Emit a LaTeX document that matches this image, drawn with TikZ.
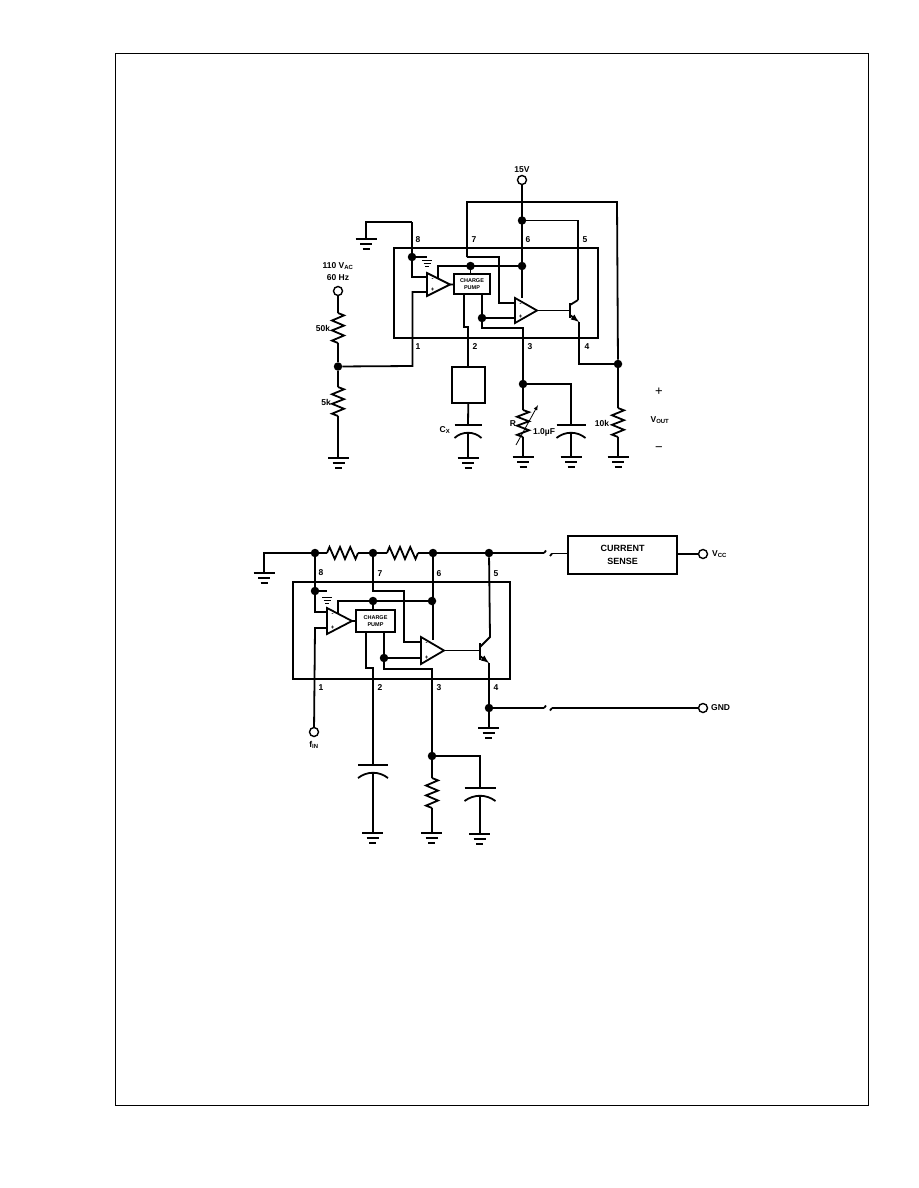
\documentclass[tikz,border=0pt]{standalone}
\usepackage{fontspec}
\setmainfont{Liberation Sans}
\usetikzlibrary{calc}
\tikzset{
	wire/.style={line width=1.8pt},
	dot/.style={circle,fill=black,inner sep=0pt,minimum size=8.5pt},
	term/.style={circle,draw,line width=1.4pt,fill=white,inner sep=0pt,minimum size=9pt},
	lbl/.style={font=\fontsize{8.5}{9}\bfseries\selectfont,inner sep=0pt},
	signlbl/.style={font=\fontsize{13}{13}\selectfont,inner sep=0pt},
	pumpbox/.style={draw,line width=2pt,fill=white,inner sep=0pt,align=center,font=\fontsize{5.5}{6.5}\bfseries\selectfont},
	plainbox/.style={draw,line width=2pt,inner sep=0pt,align=center,font=\fontsize{9}{13}\bfseries\selectfont}
}
\def\resist(#1)(#2){\draw[wire] (#1) -- ($(#1)!.08!(#2)!6pt!90:(#2)$) -- ($(#1)!.25!(#2)!6pt!-90:(#2)$) -- ($(#1)!.42!(#2)!6pt!90:(#2)$) -- ($(#1)!.58!(#2)!6pt!-90:(#2)$) -- ($(#1)!.75!(#2)!6pt!90:(#2)$) -- ($(#1)!.92!(#2)!6pt!-90:(#2)$) -- (#2);}
\def\earth(#1){\draw[wire] ($(#1)+(-10.5,0)$) -- ($(#1)+(10.5,0)$); \draw[wire] ($(#1)+(-6,5)$) -- ($(#1)+(6,5)$); \draw[line width=2pt] ($(#1)+(-3.5,10)$) -- ($(#1)+(3.5,10)$);}
\def\smallearth(#1){\draw[line width=1pt] ($(#1)+(-5,0)$) -- ($(#1)+(5,0)$); \draw[line width=1pt] ($(#1)+(-3.5,3)$) -- ($(#1)+(3.5,3)$); \draw[line width=1pt] ($(#1)+(-2,6)$) -- ($(#1)+(2,6)$);}
\def\capac(#1)(#2){\draw[wire] ($(#1)+(-#2,0)$) -- ($(#1)+(#2,0)$); \draw[wire] ($(#1)+(-#2,13)$) .. controls ($(#1)+(-6,6)$) and ($(#1)+(6,6)$) .. ($(#1)+(#2,13)$);}
\def\opamp(#1)(#2)(#3){\draw[wire,fill=white] (#1) -- (#2) -- (#3) -- cycle; \node[lbl,font=\fontsize{6}{6}\bfseries\selectfont] at ($(#1)+(5.5,6.5)$) {-}; \node[lbl,font=\fontsize{6}{6}\bfseries\selectfont] at ($(#3)+(5.5,-6.5)$) {+};}

\begin{document}
\begin{tikzpicture}[x=1pt,y=-1pt]
	\useasboundingbox (0,0) rectangle (918,1188);
	\draw[line width=1pt] (115,54) rectangle (868,1105);

	%%%%% TOP CIRCUIT %%%%%
	\node[lbl] (avlab) at (522,169.5) {15V};
	\node[term] (avin) at (522,180) {};
	\node[dot] (adtop) at (522,220.5) {};
	\node[dot] (adsix) at (522,266) {};
	\node[dot] (adpump) at (470.5,266) {};
	\node[dot] (adeight) at (412,257) {};
	\node[dot] (adrc) at (482,318) {};
	\node[dot] (addiv) at (338,366.5) {};
	\node[dot] (adthree) at (523,384) {};
	\node[dot] (adout) at (618,364) {};
	\node[term] (aacin) at (338,291) {};
	\node[lbl] (aaclab) at (338,266) {110 V\textsubscript{AC}};
	\node[lbl] (afreq) at (338,278) {60 Hz};
	\node[lbl] (arone) at (323,328) {50k};
	\node[lbl] (artwo) at (326,402) {5k};
	\node[lbl] (arload) at (602,423) {10k};
	\node[lbl] (arvar) at (513,424) {R};
	\node[lbl] (acval) at (544,432) {1.0µF};
	\node[lbl] (acx) at (445,430) {C\textsubscript{X}};
	\node[signlbl] (aplus) at (659,392) {+};
	\node[lbl] (avout) at (660,420) {V\textsubscript{OUT}};
	\node[signlbl] (aminus) at (659,449) {−};
	\node[lbl] at (418,240) {8};
	\node[lbl] at (474,240) {7};
	\node[lbl] at (528,240) {6};
	\node[lbl] at (585,240) {5};
	\node[lbl] at (418,347) {1};
	\node[lbl] at (475,347) {2};
	\node[lbl] at (530,347) {3};
	\node[lbl] at (587,347) {4};

	\draw[wire] (394,248) rectangle (598,338);
	\coordinate (aearth) at (366,239);
	\coordinate (agnd) at (427,257);
	\coordinate (asmall) at (427,260);
	\coordinate (aopa) at (427,273);
	\coordinate (aopb) at (450,284.5);
	\coordinate (aopc) at (427,296);
	\coordinate (aoqa) at (515,298);
	\coordinate (aoqb) at (537,310.5);
	\coordinate (aoqc) at (515,323);
	\coordinate (abase) at (570,310.5);
	\coordinate (acoll) at (578,300);
	\coordinate (aemit) at (579,322);
	\coordinate (acxtop) at (468,425);
	\coordinate (acvtop) at (571,425);
	\coordinate (arvtop) at (523,410);
	\coordinate (arvbot) at (523,437);
	\coordinate (arltop) at (618,408);
	\coordinate (arlbot) at (618,437);

	\draw[wire] (avin) -- (aoqa -| avin);
	\draw[wire] (467,257) -- (467,202) -- (617,202) -- (adout);
	\draw[wire] (adtop) -| (acoll);
	\draw[wire] (412,222) -| (aearth);
	\earth(aearth)
	\draw[wire] (412,222) -- (412,277) -- (427,277);
	\draw[wire] (adeight) -- (agnd);
	\smallearth(asmall)
	\draw[wire] (467,257) -- (499,257) -- (499,303) -- (515,303);
	\draw[wire] (438,278) -- (438,266) -- (adsix);
	\draw[wire] (adpump) -- (470.5,276);
	\draw[wire] (464,294) -- (464,327) -- (468,327) -- (468,367);
	\draw[wire] (482,294) -- (482,328) -- (523,328) -- (adthree);
	\draw[wire] (adrc) -- (515,318);
	\draw[wire] (427,292) -- (412.5,292) -- (412.5,366) -- (addiv);
	\draw[wire] (aacin) -- (338,313);
	\resist(338,313)(338,343)
	\draw[wire] (338,343) -- (addiv) -- (338,387);
	\resist(338,387)(338,416)
	\draw[wire] (338,416) -- (338,458);
	\earth(338.5,458)
	\opamp(aopa)(aopb)(aopc)
	\opamp(aoqa)(aoqb)(aoqc)
	\node[pumpbox,minimum width=36pt,minimum height=20pt] (apump) at (472,284) {CHARGE\\PUMP};
	\draw[wire] (aopb) -- (apump);
	\draw[wire] (aoqb) -- (abase);
	\draw[line width=2.4pt] (570,303) -- (570,318);
	\draw[wire] (570,305) -- (acoll);
	\draw[wire,-latex] (570,315) -- (aemit);
	\draw[wire] (aemit) -- (579,364) -- (adout);

	\node[draw,line width=2pt,minimum width=33pt,minimum height=36pt,inner sep=0pt] (atimer) at (468.5,385) {};
	\draw[wire] (atimer) -- (acxtop);
	\capac(acxtop)(13.5)
	\draw[wire] (468,432) -- (468,458);
	\earth(468,458)
	\draw[wire] (adthree) -- (arvtop);
	\resist(arvtop)(arvbot)
	\draw[wire] (arvbot) -- (523,457);
	\earth(523,457)
	\draw[line width=.8pt,-latex] (516,445) -- (538,405);
	\draw[wire] (adthree) -| (acvtop);
	\capac(acvtop)(14.5)
	\draw[wire] (571,432) -- (571,457);
	\earth(571,457)
	\draw[wire] (adout) -- (arltop);
	\resist(arltop)(arlbot)
	\draw[wire] (arlbot) -- (618,457);
	\earth(618,457)

	%%%%% BOTTOM CIRCUIT %%%%%
	\node[dot] (bdgnd) at (315,553) {};
	\node[dot] (bdseven) at (373,553) {};
	\node[dot] (bdsix) at (433,553) {};
	\node[dot] (bdfive) at (489,553) {};
	\node[dot] (bdeight) at (315,591) {};
	\node[dot] (bdpump) at (373,601) {};
	\node[dot] (bdsup) at (432,601) {};
	\node[dot] (bdrc) at (384,658) {};
	\node[dot] (bdfour) at (489,708) {};
	\node[dot] (bdthree) at (432,756) {};
	\node[plainbox,minimum width=109pt,minimum height=38pt] (bsense) at (622.5,555) {CURRENT\\SENSE};
	\node[term] (bvcc) at (703,554) {};
	\node[term] (bgnd) at (703,708) {};
	\node[term] (bfin) at (314,732) {};
	\node[lbl,anchor=west] (bvlab) at (712,554) {V\textsubscript{CC}};
	\node[lbl,anchor=west] (bglab) at (711,708) {GND};
	\node[lbl] (bflab) at (314,745) {f\textsubscript{IN}};
	\node[lbl] at (321,573) {8};
	\node[lbl] at (380,574) {7};
	\node[lbl] at (439,574) {6};
	\node[lbl] at (496,574) {5};
	\node[lbl] at (321,688) {1};
	\node[lbl] at (380,688) {2};
	\node[lbl] at (439,688) {3};
	\node[lbl] at (496,688) {4};

	\draw[wire] (293,582) rectangle (510,679);
	\coordinate (bearth) at (264,573);
	\coordinate (bgndb) at (327,591);
	\coordinate (bsmall) at (327,597);
	\coordinate (bopa) at (327,608);
	\coordinate (bopb) at (352,621);
	\coordinate (bopc) at (327,634);
	\coordinate (boqa) at (421,637);
	\coordinate (boqb) at (444,650.5);
	\coordinate (boqc) at (421,664);
	\coordinate (bbase) at (480,650.5);
	\coordinate (bcoll) at (490,637);
	\coordinate (bemit) at (489,663);
	\coordinate (bbrka) at (544,553);
	\coordinate (bbrkb) at (552,553.5);
	\coordinate (bbrkc) at (544,708);
	\coordinate (bbrkd) at (552,708);
	\coordinate (bcxtop) at (373,765);
	\coordinate (bcvtop) at (480,788);
	\coordinate (brtop) at (432,778);
	\coordinate (brbot) at (432,808);

	\draw[wire] (bdgnd) -| (bearth);
	\earth(bearth)
	\resist(327,553)(358,553)
	\resist(387,553)(418,553)
	\draw[wire] (bdgnd) -- (327,553);
	\draw[wire] (358,553) -- (bdseven) -- (387,553);
	\draw[wire] (418,553) -- (bdsix) -- (bdfive) -- (bbrka);
	\draw[wire] (bbrka) -- ++(2,-2.5);
	\draw[wire] (bbrkb) -- ++(-2,2.5);
	\draw[wire] (bbrkb) -- (bsense.west |- bbrkb);
	\draw[wire] (bsense.east |- bvcc) -- (bvcc);
	\draw[wire] (bdfour) -- (bbrkc);
	\draw[wire] (bbrkc) -- ++(2,-2.5);
	\draw[wire] (bbrkd) -- ++(-2,2.5);
	\draw[wire] (bbrkd) -- (bgnd);
	\draw[wire] (bdgnd) -- (bdeight) -- (315,612) -- (327,612);
	\draw[wire] (bdeight) -- (bgndb);
	\smallearth(bsmall)
	\draw[wire] (bdseven) -- (373,591) -- (404,591) -- (404,642) -- (421,642);
	\draw[wire] (bdsix) -- (433,640);
	\draw[wire] (338,614) -- (338,601) -- (bdsup);
	\draw[wire] (bdpump) -- (373,610);
	\draw[wire] (327,628) -- (315,628) -- (bfin);
	\draw[wire] (366,632) -- (366,668) -- (373,668) -- (bcxtop);
	\draw[wire] (384,632) -- (384,669) -- (432,669) -- (bdthree);
	\draw[wire] (bdrc) -- (421,658);
	\opamp(bopa)(bopb)(bopc)
	\opamp(boqa)(boqb)(boqc)
	\node[pumpbox,minimum width=39pt,minimum height=22pt] (bpump) at (375.5,621) {CHARGE\\PUMP};
	\draw[wire] (bopb) -- (bpump);
	\draw[wire] (boqb) -- (bbase);
	\draw[line width=2.4pt] (480,643) -- (480,660);
	\draw[wire] (480,647) -- (bcoll) -- (bdfive);
	\draw[wire,-latex] (480,656) -- (bemit);
	\draw[wire] (bemit) -- (bdfour) -- (489,728);
	\earth(488.5,728)
	\capac(bcxtop)(15)
	\draw[wire] (373,772) -- (373,833);
	\earth(372.5,833)
	\draw[wire] (bdthree) -- (brtop);
	\resist(brtop)(brbot)
	\draw[wire] (brbot) -- (432,833);
	\earth(431.5,833)
	\draw[wire] (bdthree) -| (bcvtop);
	\capac(bcvtop)(15.5)
	\draw[wire] (480,795) -- (480,834);
	\earth(479.5,834)
\end{tikzpicture}
\end{document}
